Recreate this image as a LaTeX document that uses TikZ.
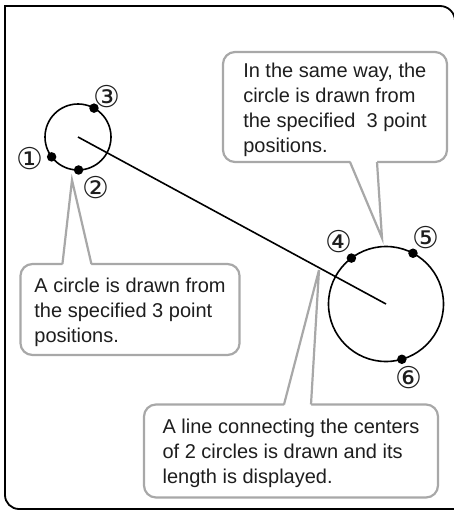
\documentclass[tikz,border=0pt]{standalone}
\usepackage{fontspec}
\setmainfont{Liberation Sans}
\newfontfamily\numfont{DejaVu Sans}
\usepackage{tikz}
\usetikzlibrary{positioning}
\definecolor{callgray}{HTML}{A8A8A8}
\definecolor{ink}{HTML}{1E1E1E}

\begin{document}
\begin{tikzpicture}[
  x=1pt, y=-1pt,
  frame/.style={draw=black, line width=1.8pt},
  callout/.style={draw=callgray, line width=2.2pt, rounded corners=12pt, fill=white, align=left, inner xsep=14pt, inner ysep=0pt, outer sep=0pt, font=\fontsize{20}{25}\selectfont, text=ink},
  pointer/.style={draw=callgray, line width=2.2pt, line join=miter},
  ring/.style={circle, draw=black, line width=1.6pt, inner sep=0pt, outer sep=0pt},
  dot/.style={circle, fill=black, inner sep=0pt, minimum size=9.5pt},
  num/.style={font=\numfont\fontsize{30}{30}\selectfont, inner sep=0pt, text=ink},
  link/.style={draw=black, line width=1.6pt}
]
\useasboundingbox (0,0) rectangle (454,511);

% outer frame, open on the right
\draw[frame, rounded corners=14pt] (470,509) -- (5,509) -- (5,300);
\draw[frame] (5,300) -- (5,6) -- (400,6);
\draw[frame, rounded corners=15pt] (400,6) -- (455,6) -- (455,60);

% the two circles and the line between centres
\node[ring, minimum size=66pt] (left) at (78,137) {};
\node[ring, minimum size=115pt] (right) at (386,304) {};
\draw[link] (left.center) -- (right.center);

\node[dot] (p1) at (left.217) {};
\node[dot] (p2) at (left.-89) {};
\node[dot] (p3) at (left.61) {};
\node[dot] (p4) at (right.127) {};
\node[dot] (p5) at (right.62) {};
\node[dot] (p6) at (right.-74) {};

\node[num] (n1) at (30,159) {①};
\node[num] (n2) at (96,188) {②};
\node[num] (n3) at (107,97) {③};
\node[num] (n4) at (339,242) {④};
\node[num] (n5) at (426,238) {⑤};
\node[num] (n6) at (409,378) {⑥};

% callouts
\node[callout, minimum width=224pt, minimum height=110pt] (same) at (335,107)
  {\rule{0pt}{20pt}In the same way, the\\circle is drawn from\\the specified~~3 point\\positions.};
\node[callout, minimum width=218pt, minimum height=91pt] (circ) at (130,309.5)
  {\rule{0pt}{20pt}A circle is drawn from\\the specified 3 point\\positions.};
\node[callout, minimum width=294pt, minimum height=93pt] (line) at (291,451)
  {\rule{0pt}{20pt}A line connecting the centers\\of 2 circles is drawn and its\\length is displayed.};

\coordinate (tipA) at (382,238);
\coordinate (tipB) at (72,180);
\coordinate (tipC) at (319,270);

\fill[white] ([xshift=127pt, yshift=2pt]same.south west) -- (tipA) -- ([xshift=154pt, yshift=2pt]same.south west) -- cycle;
\draw[pointer] ([xshift=127pt]same.south west) -- (tipA) -- ([xshift=154pt]same.south west);

\fill[white] ([xshift=42pt, yshift=-2pt]circ.north west) -- (tipB) -- ([xshift=71pt, yshift=-2pt]circ.north west) -- cycle;
\draw[pointer] ([xshift=42pt]circ.north west) -- (tipB) -- ([xshift=71pt]circ.north west);

\fill[white] ([xshift=140pt, yshift=-2pt]line.north west) -- (tipC) -- ([xshift=167pt, yshift=-2pt]line.north west) -- cycle;
\draw[pointer] ([xshift=140pt]line.north west) -- (tipC) -- ([xshift=167pt]line.north west);
\end{tikzpicture}
\end{document}
